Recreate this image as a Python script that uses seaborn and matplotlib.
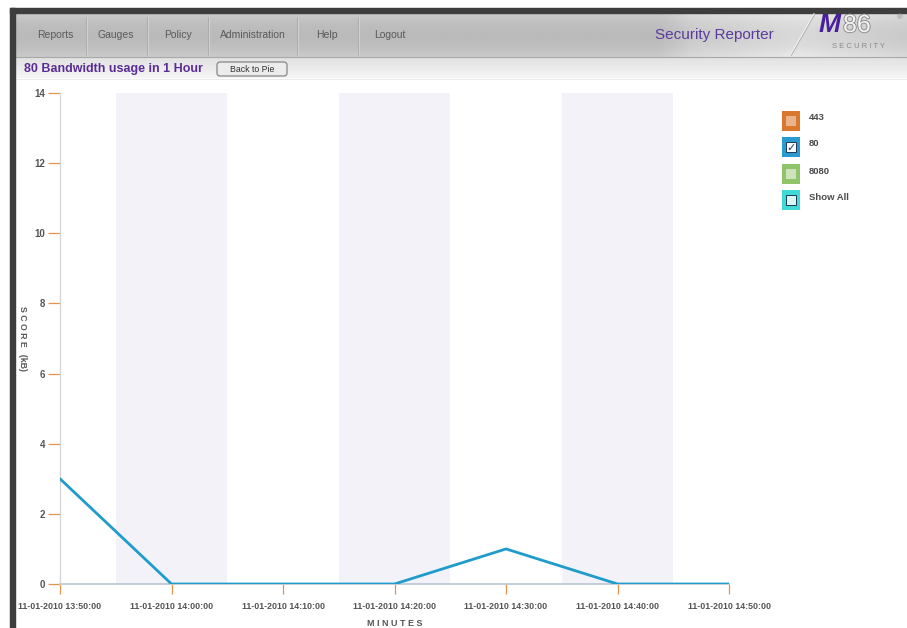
import numpy as np
import pandas as pd
import matplotlib
matplotlib.use("Agg")
import matplotlib.pyplot as plt
import matplotlib.patheffects as pe
from matplotlib.patches import Rectangle, FancyBboxPatch
import seaborn as sns

# data
times = ["11-01-2010 13:50:00", "11-01-2010 14:00:00", "11-01-2010 14:10:00",
         "11-01-2010 14:20:00", "11-01-2010 14:30:00", "11-01-2010 14:40:00",
         "11-01-2010 14:50:00"]
usage_kb = [3, 0, 0, 0, 1, 0, 0]
y_ticks = [0, 2, 4, 6, 8, 10, 12, 14]
legend_labels = ["443", "80", "8080", "Show All"]
nav_items = ["Reports", "Gauges", "Policy", "Administration", "Help", "Logout"]

stamps = pd.to_datetime(times, format="%m-%d-%Y %H:%M:%S")
df = pd.DataFrame({
    "minutes": (stamps - stamps[0]).total_seconds() / 60,
    "kB": usage_kb,
})

sns.set_style("white")
plt.rcParams["font.family"] = ["Liberation Sans", "DejaVu Sans"]

W, H = 907, 628
fig = plt.figure(figsize=(W / 100, H / 100), dpi=100)

# page chrome drawn in pixel coordinates
bg = fig.add_axes([0, 0, 1, 1])
bg.set_xlim(0, W)
bg.set_ylim(H, 0)
bg.axis("off")

# nav bar gradient
grad = np.linspace(0, 1, 100)[:, None]
nav = 0.79 - 0.06 * np.sin(grad * np.pi)
horiz = np.linspace(0, 1, 200)[None, :]
sheen = np.clip((horiz - 0.72) * 3, 0, 0.12) * (1 - np.abs(horiz - 0.88) * 4).clip(0, 1)
img = np.clip(nav * np.ones_like(horiz) + sheen, 0, 1)
bg.imshow(img, cmap="gray", vmin=0, vmax=1, extent=[15, W, 57, 13], aspect="auto", zorder=1)

sub = np.linspace(0.88, 0.96, 50)[:, None] * np.ones((1, 10))
bg.imshow(sub, cmap="gray", vmin=0, vmax=1, extent=[15, W, 78, 57], aspect="auto", zorder=1)
bg.plot([15, W], [57, 57], color="#a8a8a8", lw=0.8, zorder=2)
bg.plot([15, W], [79, 79], color="#ececec", lw=0.8, zorder=2)

# dark frame
bg.add_patch(Rectangle((10, 8), W - 10, 5, color="#3d3d3d", zorder=3))
bg.add_patch(Rectangle((10, 8), 5, H - 8, color="#3d3d3d", zorder=3))

nav_x = [55, 116, 178, 253, 327, 390]
for label, x in zip(nav_items, nav_x):
    bg.text(x, 35.5, label, ha="center", va="center", fontsize=7.5, color="#5a5a5a", zorder=4)
for x in [86, 147, 208, 297, 358]:
    bg.plot([x, x], [17, 55], color="#a9a9a9", lw=0.6, zorder=3)
    bg.plot([x + 1, x + 1], [17, 55], color="#d6d6d6", lw=0.6, zorder=3)

bg.text(714, 35, "Security Reporter", ha="center", va="center", fontsize=11,
        color="#5b3b9e", zorder=4)
bg.plot([790, 814], [56, 14], color="#eeeeee", lw=1.2, zorder=3)
bg.plot([791, 815], [56, 14], color="#a0a0a0", lw=0.5, zorder=3)
bg.text(819, 32, "M", ha="left", va="baseline", fontsize=19, fontweight="heavy",
        fontstyle="italic", color="#4a1f9c", zorder=4)
bg.text(843, 32, "86", ha="left", va="baseline", fontsize=18, color="#f4f4f4", zorder=4,
        path_effects=[pe.withStroke(linewidth=1.3, foreground="#8a8a8a")])
bg.text(858, 46, "S E C U R I T Y", ha="center", va="center", fontsize=5.5,
        color="#8a8a8a", zorder=4)
bg.text(900, 18, "®", ha="center", va="center", fontsize=5.5, color="#8a8a8a", zorder=4)

bg.text(24, 69, "80 Bandwidth usage in 1 Hour", ha="left", va="center", fontsize=9,
        fontweight="bold", color="#5a2d96", zorder=4)
bg.add_patch(FancyBboxPatch((217, 62), 70, 14, boxstyle="round,pad=0,rounding_size=3",
                            facecolor="#ececec", edgecolor="#7a7a7a", lw=0.8, zorder=4))
bg.text(252, 69.5, "Back to Pie", ha="center", va="center", fontsize=6.3,
        color="#333333", zorder=5)

# legend
leg_face = ["#d9782d", "#2a9bd0", "#8fc46a", "#3fd9d6"]
leg_inner = ["#e9b48c", "#ffffff", "#cde3bd", "#d9f5f4"]
leg_y = [121, 147, 174, 200]
for lab, fc, ic, y in zip(legend_labels, leg_face, leg_inner, leg_y):
    bg.add_patch(Rectangle((782, y - 10), 18, 20, facecolor=fc, edgecolor="none", zorder=4))
    edge = "#1a3a5a" if lab in ("80", "Show All") else "none"
    bg.add_patch(Rectangle((786, y - 5), 10, 10, facecolor=ic, edgecolor=edge, lw=0.7, zorder=5))
    if lab == "80":
        bg.text(791, y + 0.5, "✓", ha="center", va="center", fontsize=8, fontweight="bold",
                color="#1a3a7a", family="DejaVu Sans", zorder=6)
    bg.text(809, y - 3, lab, ha="left", va="center", fontsize=6.8, fontweight="bold",
            color="#4a4a4a", zorder=6)

# main chart
left, right, top, bottom = 60, 729, 93, 584
ax = fig.add_axes([left / W, (H - bottom) / H, (right - left) / W, (bottom - top) / H])
ax.set_facecolor("none")

xs = df["minutes"].to_numpy()
half = (xs[1] - xs[0]) / 2
for i in range(1, len(xs) - 1, 2):
    ax.axvspan(xs[i] - half, xs[i] + half, color="#f4f2f9", lw=0, zorder=0)

sns.lineplot(data=df, x="minutes", y="kB", color="#1f9ccc", lw=2, ax=ax, zorder=3)

ax.set_xlim(xs[0], xs[-1])
ax.set_ylim(0, 14)
ax.set_yticks(y_ticks)
ax.set_yticklabels([str(v) for v in y_ticks])
ax.set_xticks(xs)
ax.set_xticklabels(times)
ax.tick_params(axis="y", length=8.5, width=0.9, color="#e6944a", pad=2,
               labelsize=7, labelcolor="#555555", left=True, direction="out")
ax.tick_params(axis="x", length=7, width=0.9, color="#e6944a", pad=6,
               labelsize=6.4, labelcolor="#555555", bottom=True, direction="out")
for t in ax.get_xticklabels() + ax.get_yticklabels():
    t.set_fontweight("bold")

sns.despine(ax=ax, top=True, right=True)
ax.spines["left"].set_color("#d4d4d4")
ax.spines["left"].set_linewidth(0.9)
ax.spines["bottom"].set_color("#b9c6d3")
ax.spines["bottom"].set_linewidth(1.2)
ax.spines["bottom"].set_zorder(1)

ax.set_xlabel("M I N U T E S", fontsize=6.5, fontweight="bold", color="#555555", labelpad=6)
ax.set_ylabel("S C O R E   (kB)", fontsize=6.3, fontweight="bold", color="#555555",
              rotation=270, va="center")
ax.yaxis.set_label_coords(-38 / (right - left), 0.5)

fig.savefig("out.png", dpi=100)
